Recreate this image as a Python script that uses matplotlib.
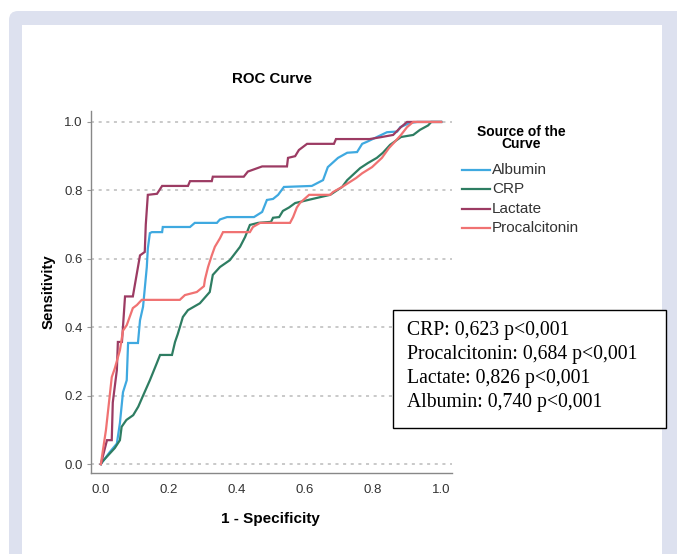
import matplotlib
matplotlib.use("Agg")
import matplotlib.pyplot as plt
from matplotlib.patches import FancyBboxPatch, Rectangle
from matplotlib.lines import Line2D
from matplotlib.transforms import IdentityTransform

plt.rcParams["font.family"] = ["Liberation Sans", "DejaVu Sans"]

# ROC points (1 - specificity, sensitivity)
albumin_fpr = [0, 0.026, 0.047, 0.056, 0.065, 0.076, 0.08, 0.109, 0.115, 0.124, 0.135, 0.138,
               0.144, 0.15, 0.18, 0.182, 0.262, 0.276, 0.341, 0.35, 0.371, 0.45, 0.474, 0.488,
               0.506, 0.521, 0.538, 0.62, 0.653, 0.667, 0.697, 0.724, 0.753, 0.768, 0.782,
               0.841, 0.871, 0.88, 0.909, 0.93, 1.0]
albumin_tpr = [0, 0.035, 0.06, 0.12, 0.21, 0.245, 0.354, 0.354, 0.42, 0.46, 0.576, 0.63,
               0.675, 0.678, 0.678, 0.693, 0.693, 0.705, 0.705, 0.715, 0.722, 0.722, 0.737, 0.772,
               0.775, 0.787, 0.81, 0.813, 0.83, 0.868, 0.895, 0.91, 0.912, 0.936, 0.942,
               0.97, 0.972, 0.985, 0.997, 1.0, 1.0]

crp_fpr = [0, 0.004, 0.017, 0.041, 0.056, 0.061, 0.075, 0.095, 0.11, 0.124, 0.144, 0.164,
           0.174, 0.209, 0.218, 0.226, 0.241, 0.256, 0.291, 0.32, 0.329, 0.35, 0.379, 0.409,
           0.424, 0.438, 0.462, 0.5, 0.506, 0.524, 0.535, 0.553, 0.571, 0.635, 0.674, 0.709,
           0.724, 0.762, 0.785, 0.811, 0.829, 0.85, 0.882, 0.918, 0.938, 0.962, 0.971, 1.0]
crp_tpr = [0, 0.007, 0.021, 0.047, 0.07, 0.109, 0.129, 0.143, 0.168, 0.2, 0.245, 0.294,
           0.319, 0.319, 0.357, 0.38, 0.43, 0.45, 0.47, 0.503, 0.553, 0.576, 0.596, 0.635,
           0.664, 0.699, 0.705, 0.708, 0.72, 0.722, 0.74, 0.75, 0.763, 0.778, 0.787, 0.81,
           0.83, 0.865, 0.88, 0.895, 0.91, 0.933, 0.956, 0.962, 0.977, 0.99, 1.0, 1.0]

lactate_fpr = [0, 0.018, 0.032, 0.035, 0.047, 0.05, 0.062, 0.071, 0.094, 0.115, 0.129, 0.132,
               0.138, 0.165, 0.18, 0.256, 0.262, 0.326, 0.329, 0.42, 0.432, 0.474, 0.547, 0.55,
               0.571, 0.582, 0.594, 0.606, 0.685, 0.691, 0.79, 0.82, 0.859, 0.882, 0.9, 1.0]
lactate_tpr = [0, 0.07, 0.07, 0.18, 0.275, 0.357, 0.357, 0.49, 0.49, 0.61, 0.62, 0.7,
               0.787, 0.79, 0.813, 0.813, 0.827, 0.827, 0.84, 0.84, 0.855, 0.87, 0.87, 0.895,
               0.9, 0.918, 0.927, 0.936, 0.936, 0.95, 0.95, 0.955, 0.962, 0.985, 1.0, 1.0]

pct_fpr = [0, 0.015, 0.032, 0.041, 0.056, 0.065, 0.076, 0.094, 0.106, 0.12, 0.232, 0.247,
           0.282, 0.303, 0.306, 0.315, 0.326, 0.335, 0.35, 0.359, 0.438, 0.447, 0.468, 0.556,
           0.565, 0.576, 0.585, 0.612, 0.674, 0.682, 0.709, 0.75, 0.768, 0.797, 0.826, 0.847,
           0.862, 0.882, 0.9, 0.918, 1.0]
pct_tpr = [0, 0.1, 0.254, 0.28, 0.333, 0.39, 0.406, 0.456, 0.465, 0.48, 0.48, 0.494,
           0.503, 0.52, 0.54, 0.576, 0.61, 0.635, 0.66, 0.678, 0.678, 0.693, 0.705, 0.705,
           0.722, 0.75, 0.763, 0.787, 0.787, 0.795, 0.81, 0.836, 0.85, 0.868, 0.895, 0.924,
           0.94, 0.962, 0.985, 1.0, 1.0]

names = ["Albumin", "CRP", "Lactate", "Procalcitonin"]
colors = ["#3fa9e0", "#2e7d62", "#9c3b63", "#f07272"]
curves = [(albumin_fpr, albumin_tpr), (crp_fpr, crp_tpr),
          (lactate_fpr, lactate_tpr), (pct_fpr, pct_tpr)]
auc_lines = ["CRP: 0,623 p<0,001", "Procalcitonin: 0,684 p<0,001",
             "Lactate: 0,826 p<0,001", "Albumin: 0,740 p<0,001"]
ticks = [0.0, 0.2, 0.4, 0.6, 0.8, 1.0]

W, H = 677, 554
fig = plt.figure(figsize=(W / 100, H / 100), dpi=100, facecolor="white")

# lavender frame with white card (pixel coords, origin bottom-left)
fig.patches.append(FancyBboxPatch((9, -30), 720, H - 11 + 30,
                                  boxstyle="round,pad=0,rounding_size=9",
                                  transform=IdentityTransform(), facecolor="#dde1ef",
                                  edgecolor="none", zorder=-2))
fig.patches.append(Rectangle((22, -30), 662 - 22, H - 25 + 30,
                             transform=IdentityTransform(), facecolor="white",
                             edgecolor="none", zorder=-1))


def fx(px):
    return px / W


def fy(py):
    return 1 - py / H


ax = fig.add_axes([fx(91), fy(473), (452 - 91) / W, (473 - 111) / H])
ax.set_facecolor("none")
for (x, y), c in zip(curves, colors):
    ax.plot(x, y, color=c, lw=1.6, solid_joinstyle="miter")

ax.set_xlim(-0.029, 1.032)
ax.set_ylim(-0.026, 1.032)
ax.set_xticks(ticks)
ax.set_yticks(ticks)
ax.set_xticklabels([f"{t:.1f}" for t in ticks])
ax.set_yticklabels([f"{t:.1f}" for t in ticks])
ax.tick_params(axis="x", length=0, pad=8, labelsize=9.5, labelcolor="#333333")
ax.tick_params(axis="y", length=3, pad=3, labelsize=9.5, labelcolor="#333333",
               color="#999999")
ax.yaxis.grid(True, color="#bbbbbb", linestyle=(0, (2, 3)), lw=1.1)
ax.set_axisbelow(True)
for s in ("top", "right"):
    ax.spines[s].set_visible(False)
for s in ("left", "bottom"):
    ax.spines[s].set_color("#888888")
    ax.spines[s].set_linewidth(1.0)

ax.set_xlabel("1 - Specificity", fontsize=11, fontweight="bold")
ax.set_ylabel("Sensitivity", fontsize=10.8, fontweight="bold")
ax.xaxis.set_label_coords(0.496, -0.108)
ax.yaxis.set_label_coords(-0.097, 0.5)

fig.text(fx(272), fy(79), "ROC Curve", fontsize=10.8, fontweight="bold",
         ha="center", va="center")

# legend
fig.text(fx(521), fy(138), "Source of the\nCurve", fontsize=10, fontweight="bold",
         ha="center", va="center", multialignment="center", linespacing=0.9)
for i, (n, c) in enumerate(zip(names, colors)):
    yy = fy(170 + i * 19.3)
    fig.add_artist(Line2D([fx(462), fx(490)], [yy, yy], color=c, lw=1.6))
    fig.text(fx(492), yy, n, fontsize=11, color="#333333", ha="left", va="center")

# AUC box
fig.patches.append(Rectangle((fx(393), fy(428)), (666 - 393) / W, (428 - 310) / H,
                             transform=fig.transFigure, facecolor="white",
                             edgecolor="black", lw=1.0))
for i, line in enumerate(auc_lines):
    fig.text(fx(407), fy(330 + i * 24), line, fontsize=14.2,
             family=["Liberation Serif", "DejaVu Serif"], ha="left", va="center")

fig.savefig("out.png", dpi=100)
